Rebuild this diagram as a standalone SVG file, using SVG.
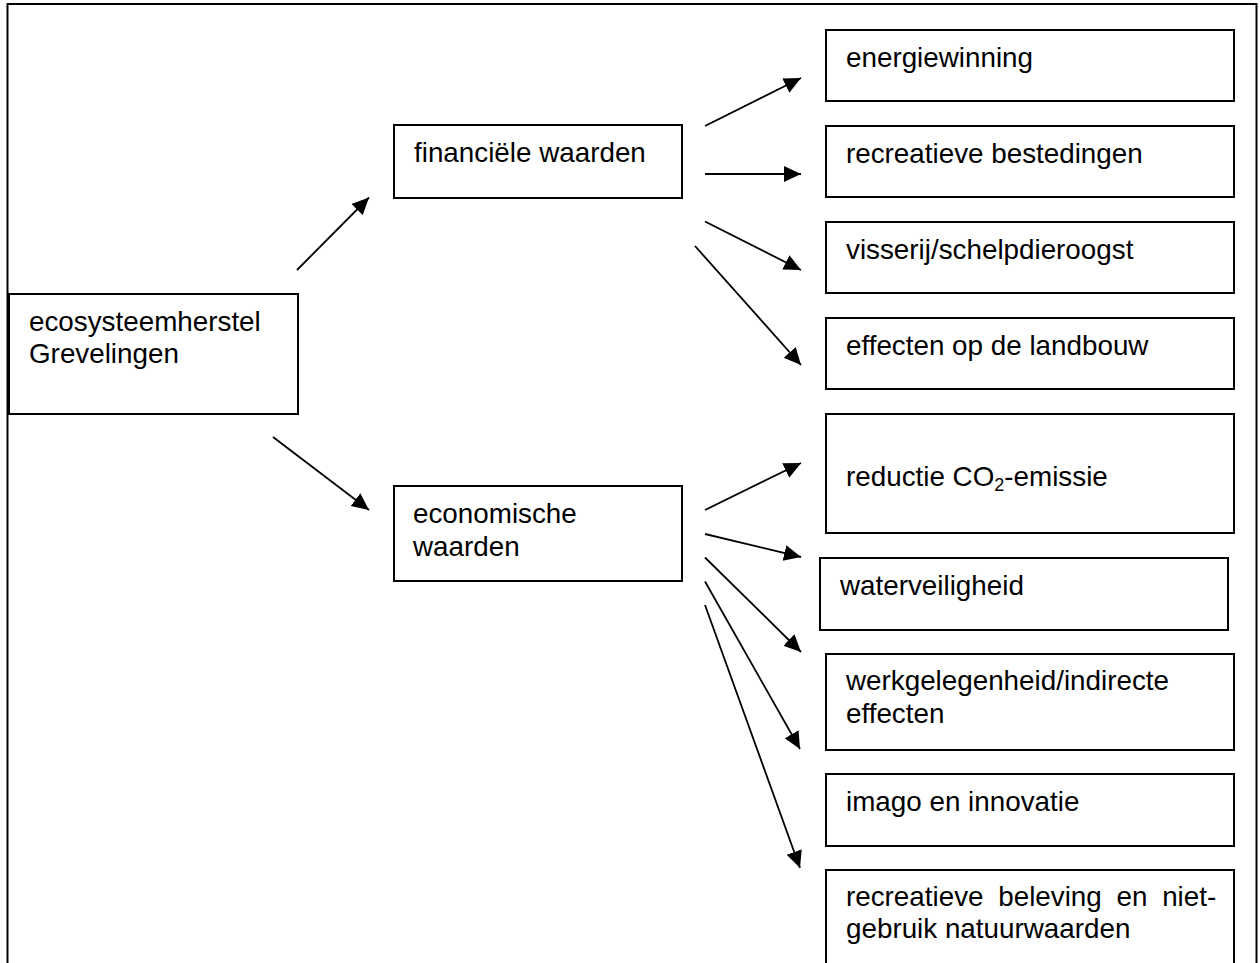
<svg xmlns="http://www.w3.org/2000/svg" width="1260" height="963" viewBox="0 0 1260 963">
<style>
.box{fill:#fff;stroke:#000;stroke-width:2}
.lbl{font-family:"Liberation Sans",Arial,sans-serif;font-size:27.8px;fill:#000}
.arr{stroke:#000;stroke-width:1.8;fill:none;marker-end:url(#ah)}
</style>
<defs>
<marker id="ah" markerUnits="userSpaceOnUse" markerWidth="18" markerHeight="17" refX="17" refY="8" orient="auto">
<path d="M0,0 L17,8 L0,16 z" fill="#000"/>
</marker>
</defs>
<rect width="1260" height="963" fill="#fff"/>
<path d="M7.5,963 V4 H1256.5 V963" fill="none" stroke="#000" stroke-width="2"/>

<g id="n-eco"><rect class="box" x="9" y="294" width="289" height="120"/><text class="lbl" x="29" y="331">ecosysteemherstel</text><text class="lbl" x="29" y="363">Grevelingen</text></g>
<g id="n-fin"><rect class="box" x="394" y="125" width="288" height="73"/><text class="lbl" x="414" y="162">financiële waarden</text></g>
<g id="n-eco2"><rect class="box" x="394" y="486" width="288" height="95"/><text class="lbl" x="413" y="523">economische</text><text class="lbl" x="413" y="556">waarden</text></g>

<g id="n-energie"><rect class="box" x="826" y="30" width="408" height="71"/><text class="lbl" x="846" y="67">energiewinning</text></g>
<g id="n-recbest"><rect class="box" x="826" y="126" width="408" height="71"/><text class="lbl" x="846" y="163">recreatieve bestedingen</text></g>
<g id="n-visserij"><rect class="box" x="826" y="222" width="408" height="71"/><text class="lbl" x="846" y="259">visserij/schelpdieroogst</text></g>
<g id="n-landbouw"><rect class="box" x="826" y="318" width="408" height="71"/><text class="lbl" x="846" y="355">effecten op de landbouw</text></g>
<g id="n-co2"><rect class="box" x="826" y="414" width="408" height="119"/><text class="lbl" x="846" y="486">reductie CO<tspan font-size="18" dy="5">2</tspan><tspan dy="-5">-emissie</tspan></text></g>
<g id="n-water"><rect class="box" x="820" y="558" width="408" height="72"/><text class="lbl" x="840" y="595">waterveiligheid</text></g>
<g id="n-werk"><rect class="box" x="826" y="654" width="408" height="96"/><text class="lbl" x="846" y="690">werkgelegenheid/indirecte</text><text class="lbl" x="846" y="723">effecten</text></g>
<g id="n-imago"><rect class="box" x="826" y="774" width="408" height="72"/><text class="lbl" x="846" y="811">imago en innovatie</text></g>
<g id="n-beleving"><rect class="box" x="826" y="870" width="408" height="110"/><text class="lbl" x="846" y="906" word-spacing="7">recreatieve beleving en niet-</text><text class="lbl" x="846" y="938">gebruik natuurwaarden</text></g>

<g id="connectors">
<line class="arr" x1="297" y1="270" x2="369" y2="197.5"/>
<line class="arr" x1="273" y1="437" x2="369" y2="510"/>
<line class="arr" x1="705" y1="126" x2="801" y2="78"/>
<line class="arr" x1="705" y1="174" x2="801" y2="174"/>
<line class="arr" x1="705" y1="221.5" x2="801" y2="270"/>
<line class="arr" x1="695" y1="246" x2="801" y2="365"/>
<line class="arr" x1="705" y1="510" x2="801" y2="463"/>
<line class="arr" x1="705" y1="534" x2="801" y2="557"/>
<line class="arr" x1="705" y1="557.5" x2="801" y2="652"/>
<line class="arr" x1="705" y1="581.5" x2="800" y2="749"/>
<line class="arr" x1="705" y1="605" x2="800" y2="868"/>
</g>
</svg>
